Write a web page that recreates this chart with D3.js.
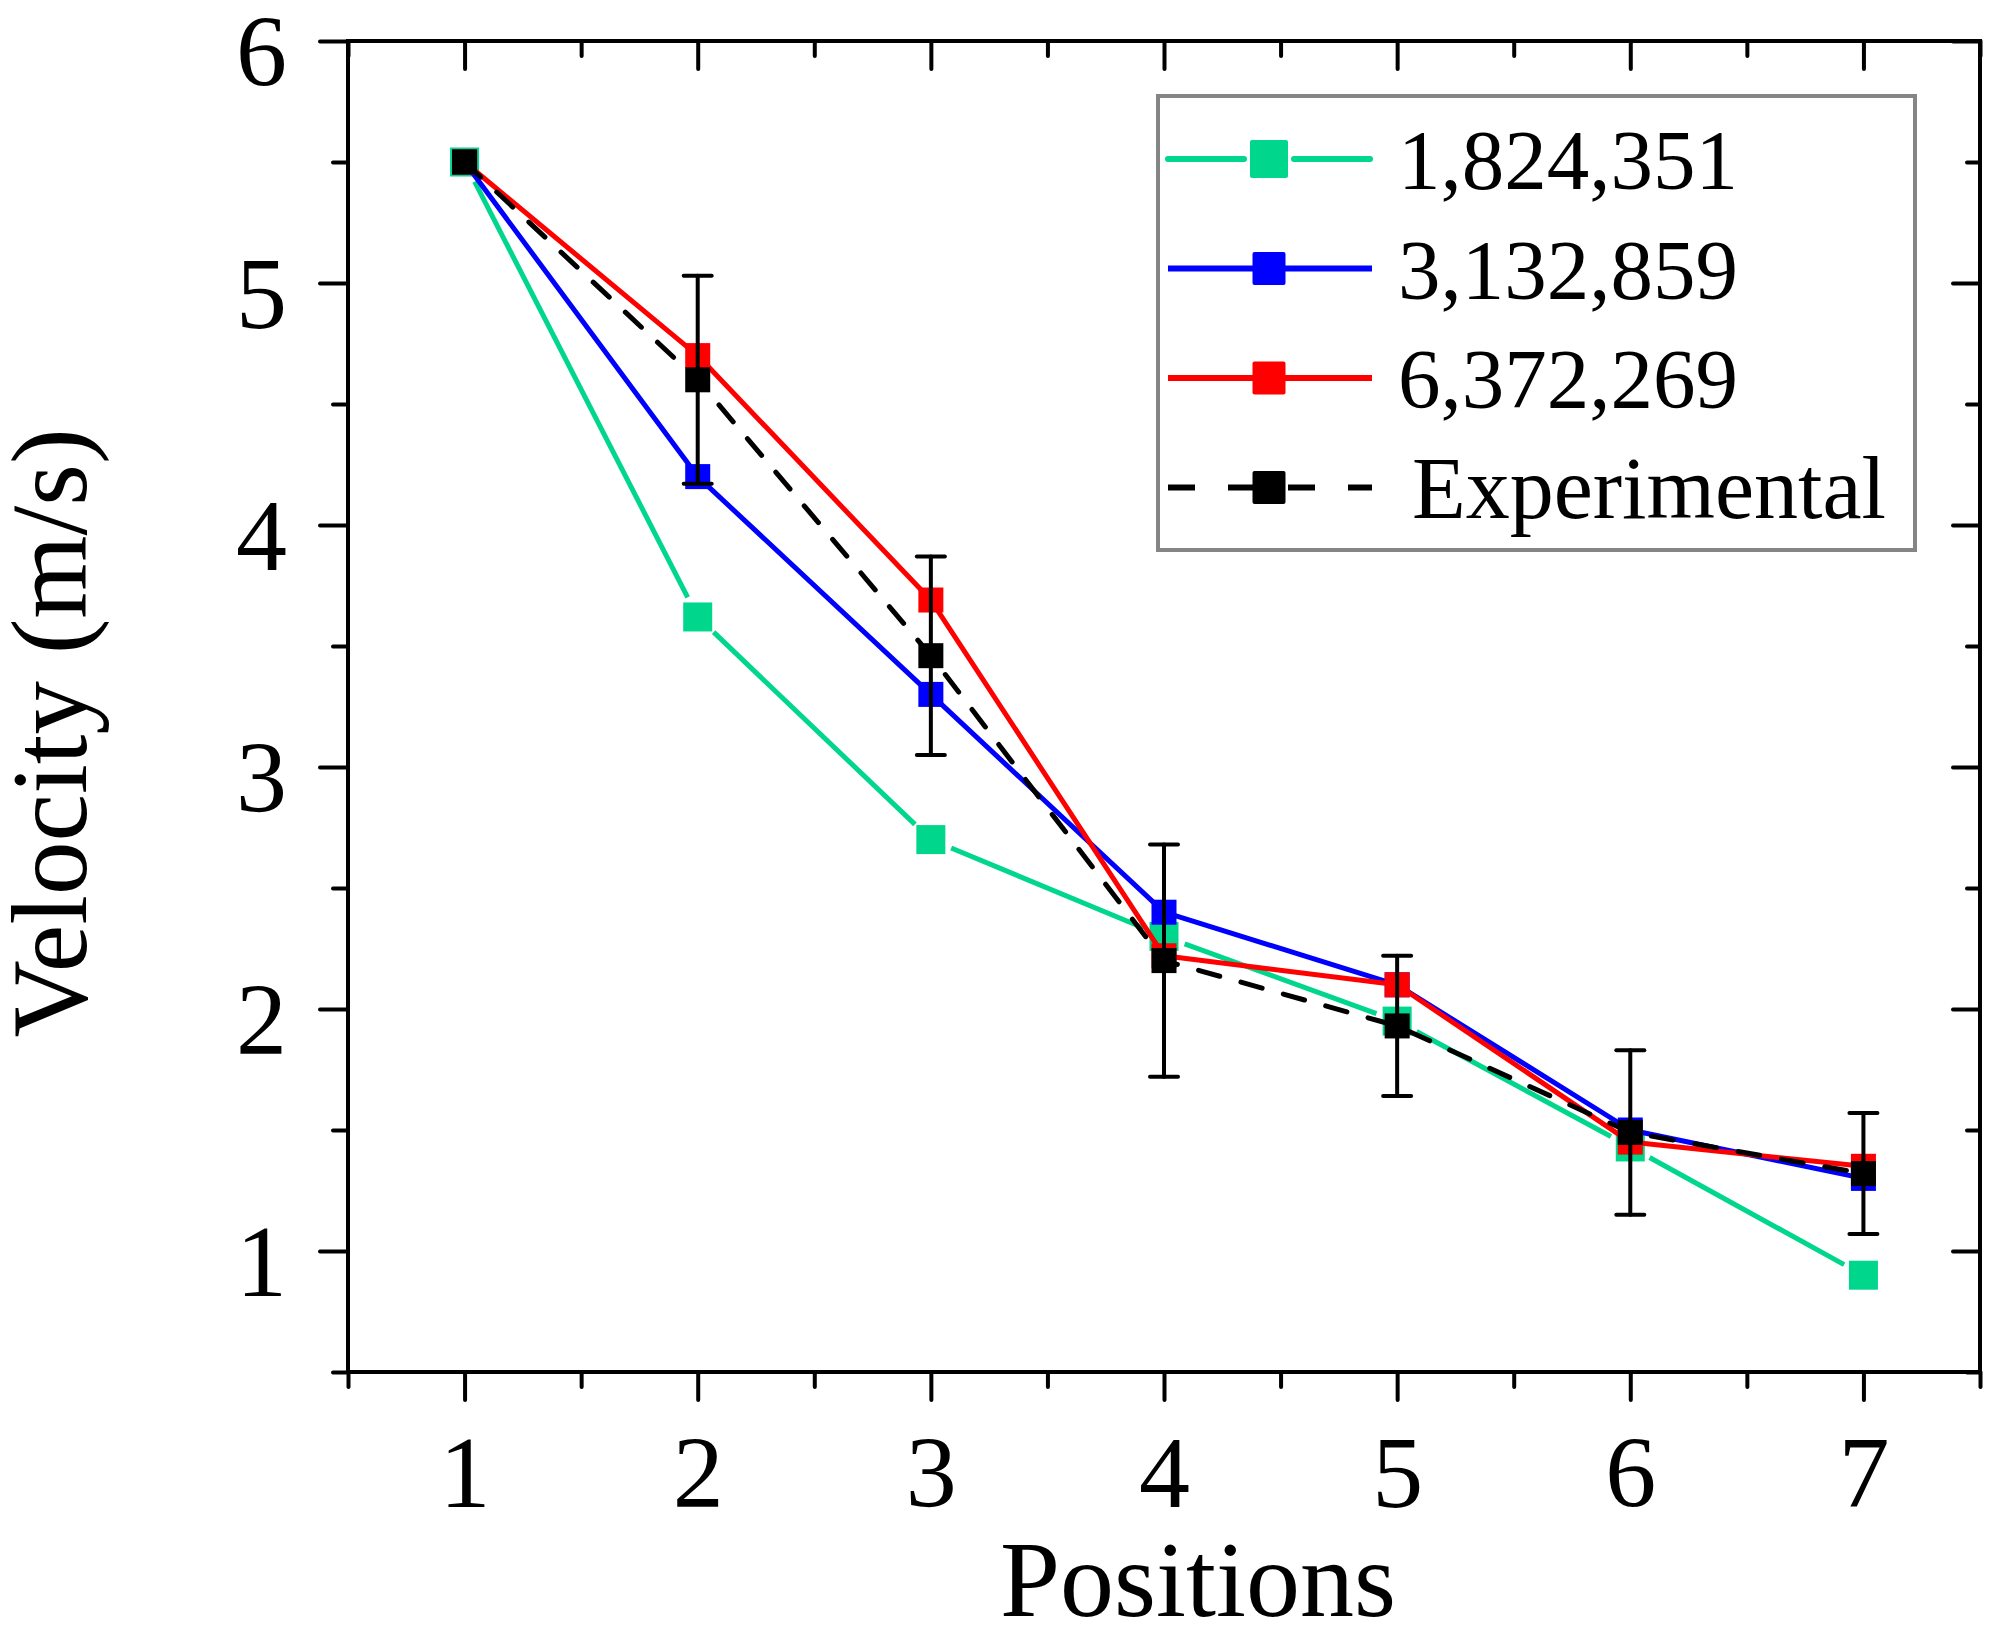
<!DOCTYPE html>
<html>
<head>
<meta charset="utf-8">
<title>Velocity vs Positions</title>
<script src="https://cdn.jsdelivr.net/npm/d3@7"></script>
<style>
  body { margin: 0; background: #fff; }
  svg text { font-family: "Liberation Serif", "DejaVu Serif", serif; fill: #000; }
</style>
</head>
<body>
<svg id="chart" width="1995" height="1628"></svg>
<script>
// values
var positions = [1, 2, 3, 4, 5, 6, 7];
var mesh1 = [5.5, 3.62, 2.70, 2.30, 1.95, 1.43, 0.90];   // 1,824,351
var mesh2 = [5.5, 4.20, 3.30, 2.40, 2.10, 1.50, 1.30];   // 3,132,859
var mesh3 = [5.5, 4.70, 3.69, 2.22, 2.10, 1.45, 1.35];   // 6,372,269
var experimental = [5.5, 4.60, 3.46, 2.20, 1.93, 1.49, 1.32];
var expError = [0, 0.43, 0.41, 0.48, 0.29, 0.34, 0.25];
var seriesNames = ["1,824,351", "3,132,859", "6,372,269", "Experimental"];

var xTicks = [1, 2, 3, 4, 5, 6, 7];
var xMinor = [0.5, 1.5, 2.5, 3.5, 4.5, 5.5, 6.5, 7.5];
var yTicks = [1, 2, 3, 4, 5, 6];
var yMinor = [0.5, 1.5, 2.5, 3.5, 4.5, 5.5];

// plot frame (note: "top" is reserved on window, so use other names)
var plotLeft = 348, plotRight = 1980, plotTop = 41, plotBottom = 1372;

var svg = d3.select("#chart");

var x = d3.scaleLinear().domain([0.5, 7.5]).range([plotLeft, plotRight]);
var y = d3.scaleLinear().domain([0.5, 6]).range([plotBottom, plotTop]);

var series = [
	{name: seriesNames[0], values: mesh1, color: "#00d68c", size: 29, legendSize: 38, dash: null, gap: 22},
	{name: seriesNames[1], values: mesh2, color: "#0000ff", size: 25, legendSize: 33, dash: null, gap: 0},
	{name: seriesNames[2], values: mesh3, color: "#ff0000", size: 25, legendSize: 33, dash: null, gap: 0},
	{name: seriesNames[3], values: experimental, color: "#000000", size: 25, legendSize: 33, dash: "22,22", gap: 0}
];

// axes: major + minor ticks, left/bottom outward, top/right inward
function styleAxis(g) {
	g.select(".domain").remove();
	g.selectAll(".tick line").attr("stroke", "#000").attr("stroke-width", 4).attr("stroke-linecap", "round");
	g.attr("font-family", null).attr("font-size", null);
}

svg.append("g").attr("transform", "translate(0," + plotBottom + ")")
	.call(d3.axisBottom(x).tickValues(xMinor).tickSize(15).tickFormat(""))
	.call(styleAxis);
var xAxis = svg.append("g").attr("transform", "translate(0," + plotBottom + ")")
	.call(d3.axisBottom(x).tickValues(xTicks).tickSize(28).tickFormat(d3.format("d")))
	.call(styleAxis);
xAxis.selectAll("text").attr("y", 135).attr("dy", null).attr("font-size", 102);

svg.append("g").attr("transform", "translate(" + plotLeft + ",0)")
	.call(d3.axisLeft(y).tickValues(yMinor).tickSize(15).tickFormat(""))
	.call(styleAxis);
var yAxis = svg.append("g").attr("transform", "translate(" + plotLeft + ",0)")
	.call(d3.axisLeft(y).tickValues(yTicks).tickSize(28).tickFormat(d3.format("d")))
	.call(styleAxis);
yAxis.selectAll("text").attr("x", -61).attr("dy", 44).attr("font-size", 102);

svg.append("g").attr("transform", "translate(0," + plotTop + ")")
	.call(d3.axisBottom(x).tickValues(xMinor).tickSize(15).tickFormat(""))
	.call(styleAxis);
svg.append("g").attr("transform", "translate(0," + plotTop + ")")
	.call(d3.axisBottom(x).tickValues(xTicks).tickSize(28).tickFormat(""))
	.call(styleAxis);
svg.append("g").attr("transform", "translate(" + plotRight + ",0)")
	.call(d3.axisLeft(y).tickValues(yMinor).tickSize(13).tickFormat(""))
	.call(styleAxis);
svg.append("g").attr("transform", "translate(" + plotRight + ",0)")
	.call(d3.axisLeft(y).tickValues(yTicks).tickSize(27).tickFormat(""))
	.call(styleAxis);

svg.append("rect")
	.attr("x", plotLeft).attr("y", plotTop)
	.attr("width", plotRight - plotLeft).attr("height", plotBottom - plotTop)
	.attr("fill", "none").attr("stroke", "#000").attr("stroke-width", 4);

// axis titles
svg.append("text")
	.attr("transform", "translate(86,733) rotate(-90)")
	.attr("text-anchor", "middle")
	.attr("font-size", 107)
	.text("Velocity (m/s)");

svg.append("text")
	.attr("x", 1198).attr("y", 1616)
	.attr("text-anchor", "middle")
	.attr("font-size", 108)
	.text("Positions");

// series: line then symbols, in plot order
var line = d3.line().x(function(d){ return x(d[0]); }).y(function(d){ return y(d[1]); });

series.forEach(function(s) {
	var pts = positions.map(function(p, i){ return [p, s.values[i]]; });
	var g = svg.append("g");
	if (s.gap > 0) {
		// Origin-style gap between line and symbol
		for (var i = 1; i < pts.length; i++) {
			var x0 = x(pts[i-1][0]), y0 = y(pts[i-1][1]);
			var x1 = x(pts[i][0]), y1 = y(pts[i][1]);
			var len = Math.sqrt((x1-x0)*(x1-x0) + (y1-y0)*(y1-y0));
			var ux = (x1-x0)/len, uy = (y1-y0)/len;
			g.append("line")
				.attr("x1", x0 + ux*s.gap).attr("y1", y0 + uy*s.gap)
				.attr("x2", x1 - ux*s.gap).attr("y2", y1 - uy*s.gap)
				.attr("stroke", s.color).attr("stroke-width", 5);
		}
	} else {
		g.append("path")
			.attr("d", line(pts))
			.attr("fill", "none")
			.attr("stroke", s.color)
			.attr("stroke-width", s.dash ? 5 : 5)
			.attr("stroke-dasharray", s.dash)
			.attr("stroke-linecap", s.dash ? "round" : "butt")
			.attr("stroke-linejoin", "round");
	}
	g.selectAll("rect")
		.data(pts).enter()
		.append("rect")
		.attr("x", function(d){ return x(d[0]) - s.size/2; })
		.attr("y", function(d){ return y(d[1]) - s.size/2; })
		.attr("width", s.size).attr("height", s.size)
		.attr("fill", s.color);
});

// error bars of the experimental data
var eb = svg.append("g").attr("stroke", "#000").attr("stroke-width", 4).attr("stroke-linecap", "round");
positions.forEach(function(p, i) {
	if (!expError[i]) return;
	var cx = x(p), hi = y(experimental[i] + expError[i]), lo = y(experimental[i] - expError[i]);
	eb.append("line").attr("x1", cx).attr("x2", cx).attr("y1", hi).attr("y2", lo);
	eb.append("line").attr("x1", cx - 14).attr("x2", cx + 14).attr("y1", hi).attr("y2", hi);
	eb.append("line").attr("x1", cx - 14).attr("x2", cx + 14).attr("y1", lo).attr("y2", lo);
});

// legend
var lg = svg.append("g").attr("transform", "translate(1158,96)");
lg.append("rect")
	.attr("width", 757).attr("height", 454)
	.attr("fill", "#fff").attr("stroke", "#858585").attr("stroke-width", 4);

series.forEach(function(s, i) {
	var row = lg.append("g").attr("transform", "translate(0," + (63 + i * 109.5) + ")");
	if (s.gap > 0) {
		row.append("line").attr("x1", 10).attr("x2", 86).attr("stroke", s.color).attr("stroke-width", 6).attr("stroke-linecap", "round");
		row.append("line").attr("x1", 136).attr("x2", 212).attr("stroke", s.color).attr("stroke-width", 6).attr("stroke-linecap", "round");
	} else {
		row.append("line").attr("x1", 10).attr("x2", 214)
			.attr("stroke", s.color).attr("stroke-width", 6)
			.attr("stroke-dasharray", s.dash ? "27,33" : null);
	}
	row.append("rect")
		.attr("x", 111 - s.legendSize/2).attr("y", -s.legendSize/2)
		.attr("width", s.legendSize).attr("height", s.legendSize)
		.attr("rx", 2)
		.attr("fill", s.color);
	row.append("text")
		.attr("x", i == 3 ? 254 : 240).attr("y", 30)
		.attr("font-size", i == 3 ? 88 : 85)
		.text(s.name);
});
</script>
</body>
</html>
